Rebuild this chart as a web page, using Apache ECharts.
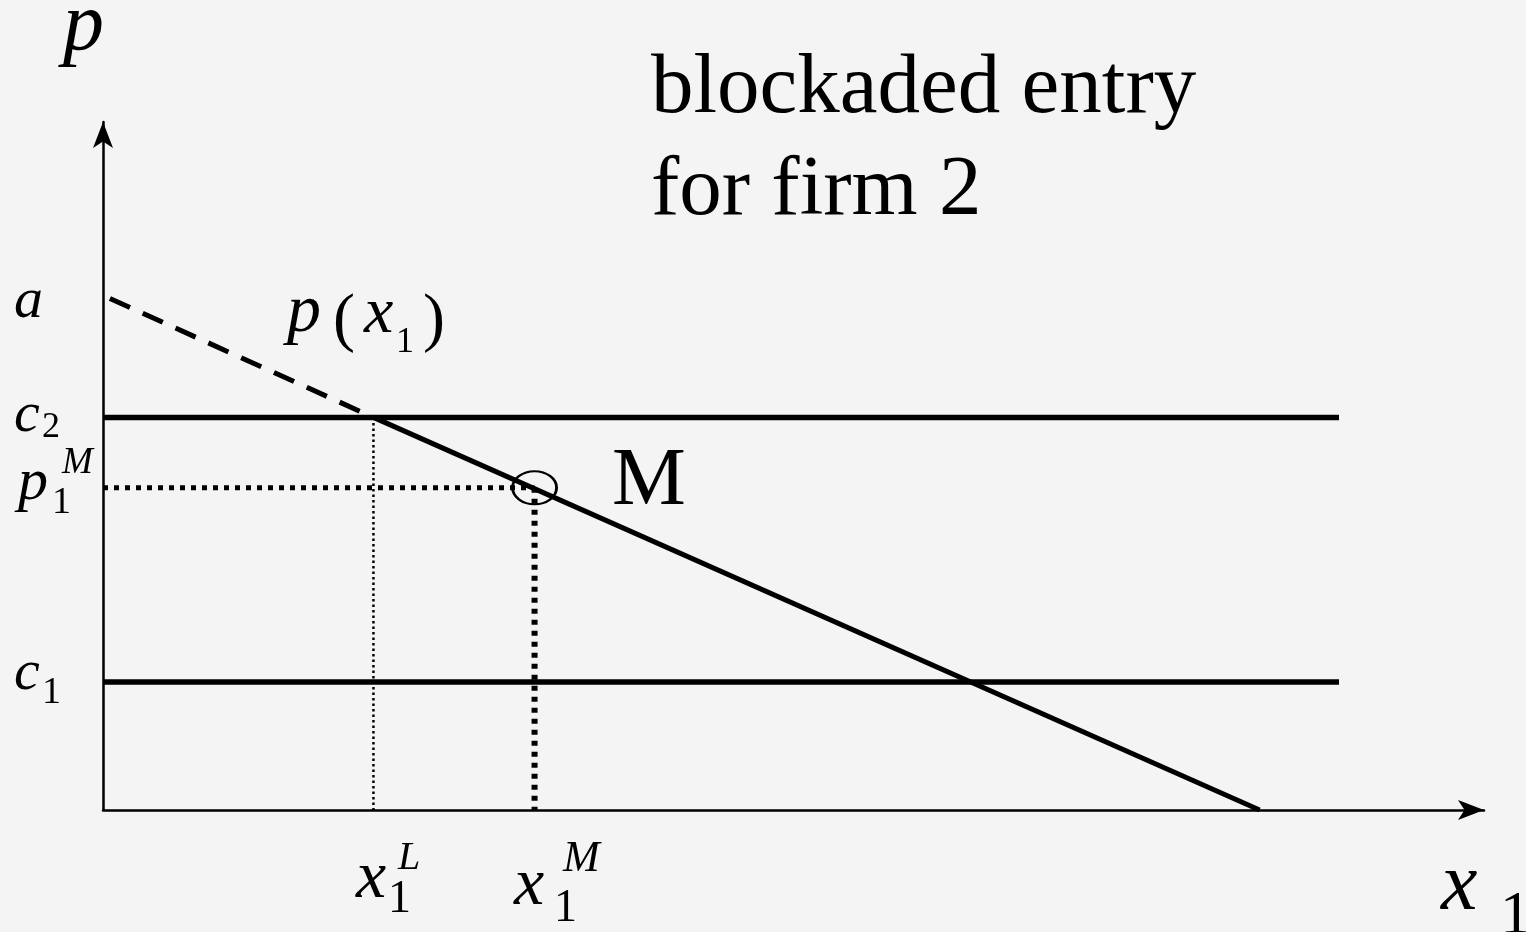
<!DOCTYPE html>
<html>
<head>
<meta charset="utf-8">
<script src="https://cdn.jsdelivr.net/npm/echarts/dist/echarts.min.js"></script>
<style>
  html, body { margin: 0; padding: 0; background: #f4f4f4; }
  #chart { width: 1526px; height: 932px; }
</style>
</head>
<body>
<div id="chart"></div>
<script>
// values
var a = 4.0;
var c2 = 3.07;
var c1 = 1.0;
var pM = 2.52;
var xL = 2.35;
var xM = 3.75;
var xEnd = 10.05;     // demand hits the quantity axis
var costLineEnd = 10.74;

var demandDashed = [[0.06, a], [xL, c2]];
var demandSolid = [[xL, c2], [xEnd, 0]];
var c2Line = [[0, c2], [costLineEnd, c2]];
var c1Line = [[0, c1], [costLineEnd, c1]];
var pMLine = [[0, pM], [xM, pM]];
var xMLine = [[xM, pM], [xM, 0]];
var xLLine = [[xL, c2], [xL, 0]];
var monopolyPoint = [[xM, pM]];

var title = ["blockaded entry", "for firm 2"];

var FONT = "Liberation Serif";

// one piece of text, placed by its baseline
function txt(s, x, base, size, italic) {
  return {
    type: "text",
    x: x,
    y: base - 0.275 * size,
    silent: true,
    style: {
      text: s,
      fontFamily: FONT,
      fontSize: size,
      fontStyle: italic ? "italic" : "normal",
      fill: "#000",
      align: "left",
      verticalAlign: "middle"
    }
  };
}

function lineSeries(data, width, type) {
  return {
    type: "line",
    data: data,
    symbol: "none",
    silent: true,
    lineStyle: { color: "#000", width: width, type: type || "solid", cap: "butt", opacity: 1 },
    z: 3
  };
}

var chart = echarts.init(document.getElementById("chart"));

chart.setOption({
  backgroundColor: "#f4f4f4",
  animation: false,
  grid: { left: 103, right: 42, top: 122, bottom: 122 },
  xAxis: {
    type: "value",
    min: 0,
    max: 12,
    axisLine: {
      show: true,
      symbol: ["none", "arrow"],
      symbolSize: [15, 26],
      lineStyle: { color: "#000", width: 2.5 }
    },
    axisTick: { show: false },
    axisLabel: { show: false },
    splitLine: { show: false }
  },
  yAxis: {
    type: "value",
    min: 0,
    max: 5.38,
    axisLine: {
      show: true,
      symbol: ["none", "arrow"],
      symbolSize: [15, 26],
      lineStyle: { color: "#000", width: 2.5 }
    },
    axisTick: { show: false },
    axisLabel: { show: false },
    splitLine: { show: false }
  },
  series: [
    lineSeries(c2Line, 5.5),
    lineSeries(c1Line, 5.5),
    lineSeries(demandDashed, 5, [22, 14]),
    lineSeries(demandSolid, 5),
    lineSeries(pMLine, 5, [5, 6]),
    lineSeries(xMLine, 6, [5, 6]),
    lineSeries(xLLine, 2.5, [2.5, 3]),
    {
      type: "scatter",
      data: monopolyPoint,
      symbol: "circle",
      symbolSize: [44, 33],
      silent: true,
      itemStyle: { color: "rgba(0,0,0,0)", borderColor: "#000", borderWidth: 2.5, opacity: 1 },
      z: 4
    }
  ],
  graphic: [
    txt("p", 63, 50, 82, true),
    txt(title[0], 651, 113, 85, false),
    txt(title[1], 651, 215, 85, false),
    // price axis labels
    txt("a", 14, 318, 58, true),
    txt("c", 14, 432, 58, true),
    txt("2", 42, 437, 36, false),
    txt("p", 18, 500, 60, true),
    txt("1", 52, 513, 38, false),
    txt("M", 62, 473, 37, true),
    txt("c", 14, 690, 58, true),
    txt("1", 42, 703, 38, false),
    // demand label
    txt("p", 287, 332, 68, true),
    txt("(", 333, 340, 66, false),
    txt("x", 364, 333, 66, true),
    txt("1", 396, 352, 36, false),
    txt(")", 423, 340, 66, false),
    // monopoly point
    txt("M", 612, 505, 83, false),
    // quantity axis labels
    txt("x", 356, 898, 68, true),
    txt("1", 388, 913, 46, false),
    txt("L", 398, 869, 40, true),
    txt("x", 514, 905, 68, true),
    txt("1", 554, 922, 46, false),
    txt("M", 563, 872, 44, true),
    txt("x", 1441, 910, 82, true),
    txt("1", 1500, 934, 62, false)
  ]
});
</script>
</body>
</html>
